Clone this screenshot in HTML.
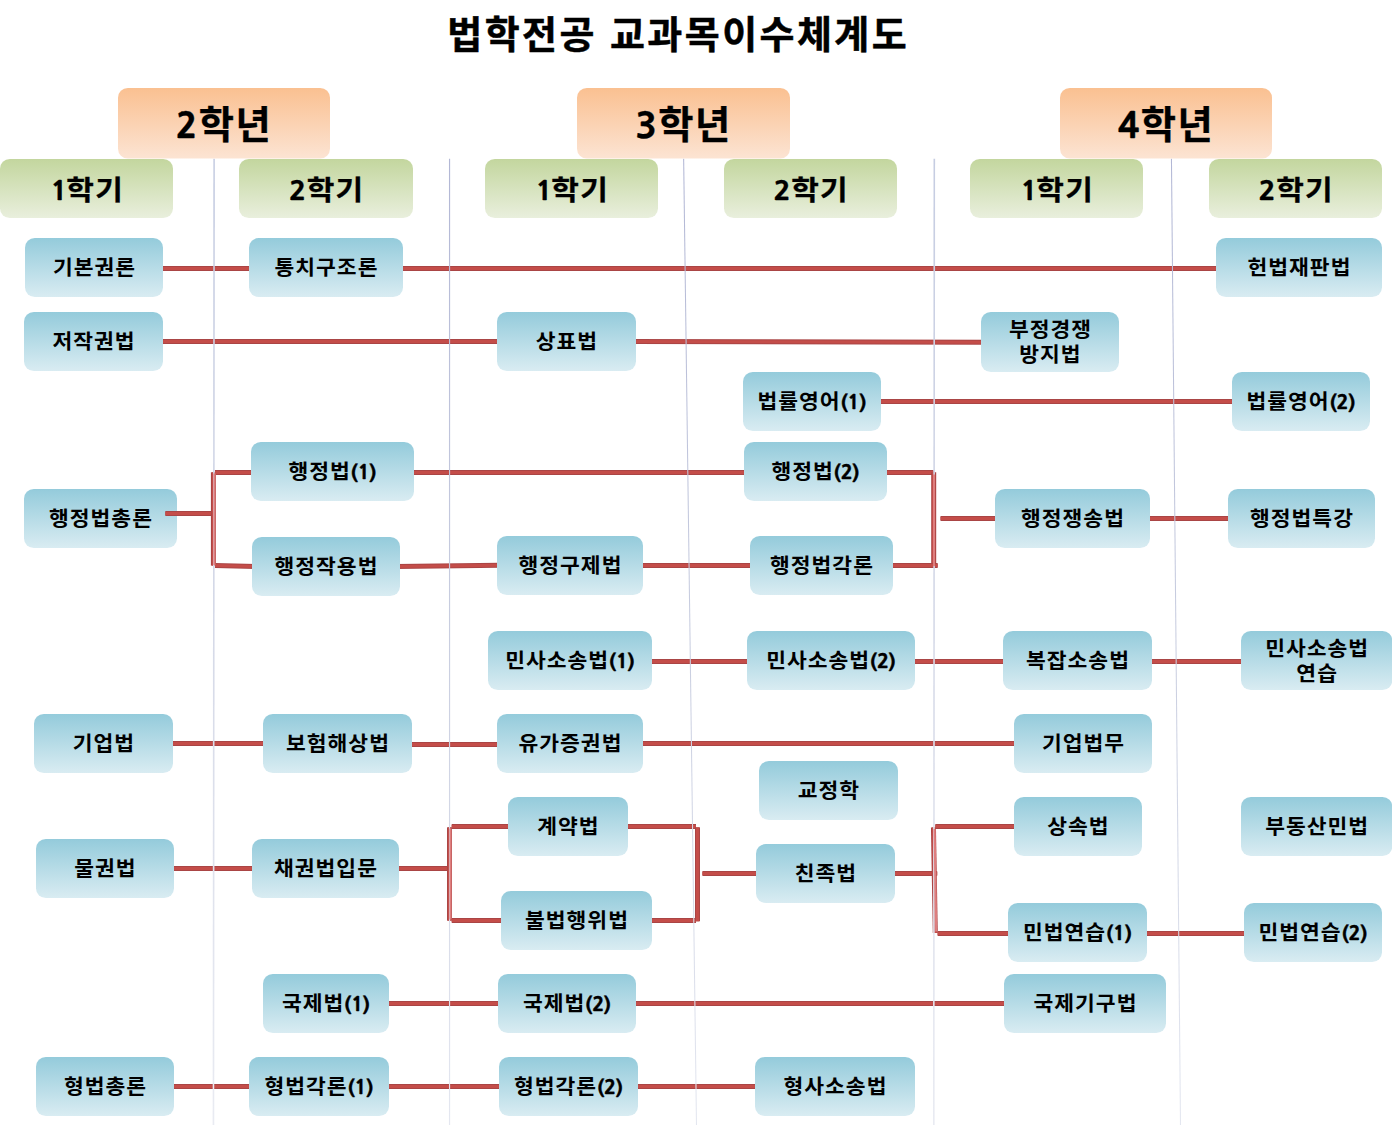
<!DOCTYPE html>
<html lang="ko">
<head>
<meta charset="utf-8">
<title>법학전공 교과목이수체계도</title>
<style>
html,body{margin:0;padding:0;background:#fff;}
body{width:1392px;height:1127px;overflow:hidden;position:relative;}
svg{display:block;position:absolute;left:0;top:0;}
text{font-family:"Liberation Sans","Noto Sans CJK KR",sans-serif;font-weight:bold;fill:#000;white-space:pre;}
.n{font-family:"NanumGothic","Liberation Sans",sans-serif;font-weight:800;}
.title{stroke:#000;stroke-width:0.5px;}
.grade,.sem{stroke:#000;stroke-width:0.35px;}
.grade .n,.sem .n{stroke-width:0.3px;}
.course .n{stroke:#000;stroke-width:0.35px;}
.red{fill:none;stroke:#AA4545;stroke-width:5;}
.redc{fill:none;stroke:#C44D49;stroke-width:3;}
.strip{fill:none;stroke:#DE7E7E;stroke-width:2.1;}
.vl{stroke-width:1.2;}
</style>
</head>
<body>
<svg width="1392" height="1127" viewBox="0 0 1392 1127">
<defs>
<linearGradient id="gb" x1="0" y1="0" x2="0" y2="1"><stop offset="0" stop-color="#94CBDB"/><stop offset="1" stop-color="#D9ECF2"/></linearGradient>
<linearGradient id="gg" x1="0" y1="0" x2="0" y2="1"><stop offset="0" stop-color="#C3D69E"/><stop offset="1" stop-color="#E9EFDD"/></linearGradient>
<linearGradient id="go" x1="0" y1="0" x2="0" y2="1"><stop offset="0" stop-color="#FAC091"/><stop offset="1" stop-color="#FCE4D3"/></linearGradient>
<linearGradient id="gv" gradientUnits="userSpaceOnUse" x1="0" y1="159" x2="0" y2="1125"><stop offset="0" stop-color="#B2B7D5"/><stop offset="0.5" stop-color="#C9CEE0"/><stop offset="1" stop-color="#E4E7F0"/></linearGradient>
<linearGradient id="gv2" gradientUnits="userSpaceOnUse" x1="0" y1="159" x2="0" y2="1125"><stop offset="0" stop-color="#C6CDE2"/><stop offset="0.5" stop-color="#D6DAE8"/><stop offset="1" stop-color="#E9EBF2"/></linearGradient>
</defs>
<rect width="1392" height="1127" fill="#fff"/>

<g id="title">
<text class="title" x="447.26" y="48.20" font-size="38" letter-spacing="2.45">법학전공 교과목이수체계도</text>
</g>
<g id="links">
<polyline class="red" points="160,268.5 252,268.5"/><polyline class="redc" points="160,268.5 252,268.5"/>
<polyline class="red" points="400,268.5 1220,268.5"/><polyline class="redc" points="400,268.5 1220,268.5"/>
<polyline class="red" points="160,341.5 500,341.5"/><polyline class="redc" points="160,341.5 500,341.5"/>
<polyline class="red" points="633,341.5 985,342.3"/><polyline class="redc" points="633,341.5 985,342.3"/>
<polyline class="red" points="878,401.5 1236,401.5"/><polyline class="redc" points="878,401.5 1236,401.5"/>
<polyline class="red" points="213.4,472.3 213.4,565.6"/><polyline class="redc" points="213.4,472.3 213.4,565.6"/>
<polyline class="red" points="215,472.5 255,472.5"/><polyline class="redc" points="215,472.5 255,472.5"/>
<polyline class="red" points="215,565.4 256,566.5"/><polyline class="redc" points="215,565.4 256,566.5"/>
<polyline class="red" points="410,472.5 748,472.5"/><polyline class="redc" points="410,472.5 748,472.5"/>
<polyline class="red" points="396,566.5 500,565.2"/><polyline class="redc" points="396,566.5 500,565.2"/>
<polyline class="red" points="640,565.5 754,565.5"/><polyline class="redc" points="640,565.5 754,565.5"/>
<polyline class="red" points="884,472.5 933.6,472.5"/><polyline class="redc" points="884,472.5 933.6,472.5"/>
<polyline class="red" points="933.7,472.3 933.7,567.5"/><polyline class="redc" points="933.7,472.3 933.7,567.5"/>
<polyline class="red" points="890,565.5 937.7,565.5"/><polyline class="redc" points="890,565.5 937.7,565.5"/>
<polyline class="red" points="940.5,518.5 999,518.5"/><polyline class="redc" points="940.5,518.5 999,518.5"/>
<polyline class="red" points="1147,518.5 1232,518.5"/><polyline class="redc" points="1147,518.5 1232,518.5"/>
<polyline class="red" points="649,661.5 751,661.5"/><polyline class="redc" points="649,661.5 751,661.5"/>
<polyline class="red" points="912,661.5 1007,661.5"/><polyline class="redc" points="912,661.5 1007,661.5"/>
<polyline class="red" points="1149,661.5 1245,661.5"/><polyline class="redc" points="1149,661.5 1245,661.5"/>
<polyline class="red" points="170,743.5 267,743.5"/><polyline class="redc" points="170,743.5 267,743.5"/>
<polyline class="red" points="409,744.5 500,744.5"/><polyline class="redc" points="409,744.5 500,744.5"/>
<polyline class="red" points="640,743.5 1018,743.5"/><polyline class="redc" points="640,743.5 1018,743.5"/>
<polyline class="red" points="171,868.5 256,868.5"/><polyline class="redc" points="171,868.5 256,868.5"/>
<polyline class="red" points="396,868.5 447.3,868.5"/><polyline class="redc" points="396,868.5 447.3,868.5"/>
<polyline class="red" points="449.5,827.3 449.5,920.7"/><polyline class="redc" points="449.5,827.3 449.5,920.7"/>
<polyline class="red" points="451.7,826.5 512,826.5"/><polyline class="redc" points="451.7,826.5 512,826.5"/>
<polyline class="red" points="451.7,920.5 505,920.5"/><polyline class="redc" points="451.7,920.5 505,920.5"/>
<polyline class="red" points="625,826.5 696,826.5"/><polyline class="redc" points="625,826.5 696,826.5"/>
<polyline class="red" points="649,920.5 696,920.5"/><polyline class="redc" points="649,920.5 696,920.5"/>
<polyline class="red" points="697.5,827.3 697.5,921.3"/><polyline class="redc" points="697.5,827.3 697.5,921.3"/>
<polyline class="red" points="702.4,873.5 760,873.5"/><polyline class="redc" points="702.4,873.5 760,873.5"/>
<polyline class="red" points="892,873.5 937.2,873.5"/><polyline class="redc" points="892,873.5 937.2,873.5"/>
<polyline class="red" points="933.45,827.4 935.3,933"/><polyline class="redc" points="933.45,827.4 935.3,933"/>
<polyline class="red" points="935.3,826.5 1018,826.5"/><polyline class="redc" points="935.3,826.5 1018,826.5"/>
<polyline class="red" points="937.6,933.5 1012,933.5"/><polyline class="redc" points="937.6,933.5 1012,933.5"/>
<polyline class="red" points="1144,933.5 1248,933.5"/><polyline class="redc" points="1144,933.5 1248,933.5"/>
<polyline class="red" points="386,1003.5 502,1003.5"/><polyline class="redc" points="386,1003.5 502,1003.5"/>
<polyline class="red" points="633,1003.5 1008,1003.5"/><polyline class="redc" points="633,1003.5 1008,1003.5"/>
<polyline class="red" points="171,1086.5 253,1086.5"/><polyline class="redc" points="171,1086.5 253,1086.5"/>
<polyline class="red" points="386,1086.5 503,1086.5"/><polyline class="redc" points="386,1086.5 503,1086.5"/>
<polyline class="red" points="635,1086.5 759,1086.5"/><polyline class="redc" points="635,1086.5 759,1086.5"/>
</g>
<g id="guides">
<line x1="214.1" y1="158.8" x2="213.45" y2="1125" stroke="url(#gv2)" stroke-width="1.6"/>
<line x1="449.55" y1="158.8" x2="449.55" y2="1125" stroke="url(#gv)" stroke-width="1.15"/>
<line x1="683.65" y1="158.8" x2="696.5" y2="1125" stroke="url(#gv)" stroke-width="1.05"/>
<line x1="934.3" y1="158.8" x2="933.8" y2="1125" stroke="url(#gv2)" stroke-width="1.6"/>
<line x1="1171.45" y1="158.8" x2="1180.5" y2="1125" stroke="url(#gv)" stroke-width="1.05"/>
</g>
<g id="strips">
<polyline class="strip" points="214.5,473.5 214.4,565"/>
<polyline class="strip" points="450.5,828.5 450.5,919.5"/>
<polyline class="strip" points="934,474.5 934,566"/>
<polyline class="strip" points="934.6,829 936.2,931.5"/>
</g>
<g id="grades">
<rect x="118" y="88" width="212" height="70.5" rx="9.8" fill="url(#go)"/>
<text class="grade" transform="translate(175.84 137.50) scale(0.972 0.955)" font-size="39.4" letter-spacing="1.5"><tspan class="n" font-size="36.65" letter-spacing="0.00">2</tspan><tspan dx="1.44">학년</tspan></text>
<rect x="577" y="88" width="213" height="70.5" rx="9.8" fill="url(#go)"/>
<text class="grade" transform="translate(635.34 137.50) scale(0.972 0.955)" font-size="39.4" letter-spacing="1.5"><tspan class="n" font-size="36.65" letter-spacing="0.00">3</tspan><tspan dx="1.44">학년</tspan></text>
<rect x="1060" y="88" width="212" height="70.5" rx="9.8" fill="url(#go)"/>
<text class="grade" transform="translate(1117.84 137.50) scale(0.972 0.955)" font-size="39.4" letter-spacing="1.5"><tspan class="n" font-size="36.65" letter-spacing="0.00">4</tspan><tspan dx="1.44">학년</tspan></text>
</g>
<g id="semesters">
<rect x="0" y="159" width="173" height="59" rx="9.8" fill="url(#gg)"/>
<text class="sem" transform="translate(50.44 199.50) scale(1 0.92)" font-size="30" letter-spacing="1.2"><tspan class="n" font-size="28.26" letter-spacing="0.00">1</tspan><tspan dx="-1.20">학기</tspan></text>
<rect x="239" y="159" width="174" height="59" rx="9.8" fill="url(#gg)"/>
<text class="sem" transform="translate(289.04 199.50) scale(1 0.92)" font-size="30" letter-spacing="1.2"><tspan class="n" font-size="28.26" letter-spacing="0.00">2</tspan><tspan dx="0.60">학기</tspan></text>
<rect x="485" y="159" width="173" height="59" rx="9.8" fill="url(#gg)"/>
<text class="sem" transform="translate(535.44 199.50) scale(1 0.92)" font-size="30" letter-spacing="1.2"><tspan class="n" font-size="28.26" letter-spacing="0.00">1</tspan><tspan dx="-1.20">학기</tspan></text>
<rect x="724" y="159" width="173" height="59" rx="9.8" fill="url(#gg)"/>
<text class="sem" transform="translate(773.54 199.50) scale(1 0.92)" font-size="30" letter-spacing="1.2"><tspan class="n" font-size="28.26" letter-spacing="0.00">2</tspan><tspan dx="0.60">학기</tspan></text>
<rect x="970" y="159" width="173" height="59" rx="9.8" fill="url(#gg)"/>
<text class="sem" transform="translate(1020.44 199.50) scale(1 0.92)" font-size="30" letter-spacing="1.2"><tspan class="n" font-size="28.26" letter-spacing="0.00">1</tspan><tspan dx="-1.20">학기</tspan></text>
<rect x="1209" y="159" width="173" height="59" rx="9.8" fill="url(#gg)"/>
<text class="sem" transform="translate(1258.54 199.50) scale(1 0.92)" font-size="30" letter-spacing="1.2"><tspan class="n" font-size="28.26" letter-spacing="0.00">2</tspan><tspan dx="0.60">학기</tspan></text>
</g>
<g id="courses">
<rect x="25" y="238" width="138" height="59" rx="9.8" fill="url(#gb)"/>
<text class="course" transform="translate(52.94 274.70) scale(1 0.96)" font-size="21.5" letter-spacing="1">기본권론</text>
<rect x="249" y="238" width="154" height="59" rx="9.8" fill="url(#gb)"/>
<text class="course" transform="translate(274.55 274.70) scale(1 0.96)" font-size="21.5" letter-spacing="1">통치구조론</text>
<rect x="1216" y="238" width="166" height="59" rx="9.8" fill="url(#gb)"/>
<text class="course" transform="translate(1247.55 274.70) scale(1 0.96)" font-size="21.5" letter-spacing="1">헌법재판법</text>
<rect x="24" y="312" width="139" height="59" rx="9.8" fill="url(#gb)"/>
<text class="course" transform="translate(52.44 348.70) scale(1 0.96)" font-size="21.5" letter-spacing="1">저작권법</text>
<rect x="497" y="312" width="139" height="59" rx="9.8" fill="url(#gb)"/>
<text class="course" transform="translate(535.83 348.70) scale(1 0.96)" font-size="21.5" letter-spacing="1">상표법</text>
<rect x="981" y="312" width="138" height="60" rx="9.8" fill="url(#gb)"/>
<text class="course" transform="translate(1008.94 337.00) scale(1 0.96)" font-size="21.5" letter-spacing="1">부정경쟁</text>
<text class="course" transform="translate(1019.33 362.20) scale(1 0.96)" font-size="21.5" letter-spacing="1">방지법</text>
<rect x="743" y="372" width="138" height="59" rx="9.8" fill="url(#gb)"/>
<text class="course" transform="translate(757.56 408.70) scale(1 0.96)" font-size="21.5" letter-spacing="1">법률영어<tspan class="n" font-size="19.79" letter-spacing="-0.30"><tspan dy="1.67">(</tspan><tspan dy="-1.35">1</tspan><tspan dy="1.35">)</tspan></tspan></text>
<rect x="1232" y="372" width="138" height="59" rx="9.8" fill="url(#gb)"/>
<text class="course" transform="translate(1246.56 408.70) scale(1 0.96)" font-size="21.5" letter-spacing="1">법률영어<tspan class="n" font-size="19.79" letter-spacing="-0.30"><tspan dy="1.67">(</tspan><tspan dy="-1.35">2</tspan><tspan dy="1.35">)</tspan></tspan></text>
<rect x="251" y="442" width="163" height="59" rx="9.8" fill="url(#gb)"/>
<text class="course" transform="translate(288.45 478.70) scale(1 0.96)" font-size="21.5" letter-spacing="1">행정법<tspan class="n" font-size="19.79" letter-spacing="-0.30"><tspan dy="1.67">(</tspan><tspan dy="-1.35">1</tspan><tspan dy="1.35">)</tspan></tspan></text>
<rect x="744" y="442" width="143" height="59" rx="9.8" fill="url(#gb)"/>
<text class="course" transform="translate(771.45 478.70) scale(1 0.96)" font-size="21.5" letter-spacing="1">행정법<tspan class="n" font-size="19.79" letter-spacing="-0.30"><tspan dy="1.67">(</tspan><tspan dy="-1.35">2</tspan><tspan dy="1.35">)</tspan></tspan></text>
<rect x="24" y="489" width="153" height="59" rx="9.8" fill="url(#gb)"/>
<text class="course" transform="translate(49.05 525.70) scale(1 0.96)" font-size="21.5" letter-spacing="1">행정법총론</text>
<rect x="995" y="489" width="155" height="59" rx="9.8" fill="url(#gb)"/>
<text class="course" transform="translate(1021.05 525.70) scale(1 0.96)" font-size="21.5" letter-spacing="1">행정쟁송법</text>
<rect x="1228" y="489" width="147" height="59" rx="9.8" fill="url(#gb)"/>
<text class="course" transform="translate(1250.05 525.70) scale(1 0.96)" font-size="21.5" letter-spacing="1">행정법특강</text>
<rect x="252" y="537" width="148" height="59" rx="9.8" fill="url(#gb)"/>
<text class="course" transform="translate(274.55 573.70) scale(1 0.96)" font-size="21.5" letter-spacing="1">행정작용법</text>
<rect x="497" y="536" width="146" height="59" rx="9.8" fill="url(#gb)"/>
<text class="course" transform="translate(518.55 572.70) scale(1 0.96)" font-size="21.5" letter-spacing="1">행정구제법</text>
<rect x="750" y="536" width="143" height="59" rx="9.8" fill="url(#gb)"/>
<text class="course" transform="translate(770.05 572.70) scale(1 0.96)" font-size="21.5" letter-spacing="1">행정법각론</text>
<rect x="488" y="631" width="164" height="59" rx="9.8" fill="url(#gb)"/>
<text class="course" transform="translate(505.17 667.70) scale(1 0.96)" font-size="21.5" letter-spacing="1">민사소송법<tspan class="n" font-size="19.79" letter-spacing="-0.30"><tspan dy="1.67">(</tspan><tspan dy="-1.35">1</tspan><tspan dy="1.35">)</tspan></tspan></text>
<rect x="747" y="631" width="168" height="59" rx="9.8" fill="url(#gb)"/>
<text class="course" transform="translate(766.17 667.70) scale(1 0.96)" font-size="21.5" letter-spacing="1">민사소송법<tspan class="n" font-size="19.79" letter-spacing="-0.30"><tspan dy="1.67">(</tspan><tspan dy="-1.35">2</tspan><tspan dy="1.35">)</tspan></tspan></text>
<rect x="1003" y="631" width="149" height="59" rx="9.8" fill="url(#gb)"/>
<text class="course" transform="translate(1026.05 667.70) scale(1 0.96)" font-size="21.5" letter-spacing="1">복잡소송법</text>
<rect x="1241" y="631" width="151.3" height="59" rx="9.8" fill="url(#gb)"/>
<text class="course" transform="translate(1265.20 655.50) scale(1 0.96)" font-size="21.5" letter-spacing="1">민사소송법</text>
<text class="course" transform="translate(1296.37 680.70) scale(1 0.96)" font-size="21.5" letter-spacing="1">연습</text>
<rect x="34" y="714" width="139" height="59" rx="9.8" fill="url(#gb)"/>
<text class="course" transform="translate(72.83 750.70) scale(1 0.96)" font-size="21.5" letter-spacing="1">기업법</text>
<rect x="263" y="714" width="149" height="59" rx="9.8" fill="url(#gb)"/>
<text class="course" transform="translate(286.05 750.70) scale(1 0.96)" font-size="21.5" letter-spacing="1">보험해상법</text>
<rect x="497" y="714" width="146" height="59" rx="9.8" fill="url(#gb)"/>
<text class="course" transform="translate(518.55 750.70) scale(1 0.96)" font-size="21.5" letter-spacing="1">유가증권법</text>
<rect x="1014" y="714" width="138" height="59" rx="9.8" fill="url(#gb)"/>
<text class="course" transform="translate(1041.94 750.70) scale(1 0.96)" font-size="21.5" letter-spacing="1">기업법무</text>
<rect x="759" y="761" width="139" height="59" rx="9.8" fill="url(#gb)"/>
<text class="course" transform="translate(797.83 797.70) scale(1 0.96)" font-size="21.5" letter-spacing="1">교정학</text>
<rect x="508" y="797" width="120" height="59" rx="9.8" fill="url(#gb)"/>
<text class="course" transform="translate(537.33 833.70) scale(1 0.96)" font-size="21.5" letter-spacing="1">계약법</text>
<rect x="1014" y="797" width="128" height="59" rx="9.8" fill="url(#gb)"/>
<text class="course" transform="translate(1047.33 833.70) scale(1 0.96)" font-size="21.5" letter-spacing="1">상속법</text>
<rect x="1241" y="797" width="151.3" height="59" rx="9.8" fill="url(#gb)"/>
<text class="course" transform="translate(1265.20 833.70) scale(1 0.96)" font-size="21.5" letter-spacing="1">부동산민법</text>
<rect x="36" y="839" width="138" height="59" rx="9.8" fill="url(#gb)"/>
<text class="course" transform="translate(74.33 875.70) scale(1 0.96)" font-size="21.5" letter-spacing="1">물권법</text>
<rect x="252" y="839" width="147" height="59" rx="9.8" fill="url(#gb)"/>
<text class="course" transform="translate(274.05 875.70) scale(1 0.96)" font-size="21.5" letter-spacing="1">채권법입문</text>
<rect x="756" y="844" width="139" height="59" rx="9.8" fill="url(#gb)"/>
<text class="course" transform="translate(794.83 880.70) scale(1 0.96)" font-size="21.5" letter-spacing="1">친족법</text>
<rect x="501" y="891" width="151" height="59" rx="9.8" fill="url(#gb)"/>
<text class="course" transform="translate(525.05 927.70) scale(1 0.96)" font-size="21.5" letter-spacing="1">불법행위법</text>
<rect x="1008" y="903" width="139" height="59" rx="9.8" fill="url(#gb)"/>
<text class="course" transform="translate(1023.06 939.70) scale(1 0.96)" font-size="21.5" letter-spacing="1">민법연습<tspan class="n" font-size="19.79" letter-spacing="-0.30"><tspan dy="1.67">(</tspan><tspan dy="-1.35">1</tspan><tspan dy="1.35">)</tspan></tspan></text>
<rect x="1244" y="903" width="138" height="59" rx="9.8" fill="url(#gb)"/>
<text class="course" transform="translate(1258.56 939.70) scale(1 0.96)" font-size="21.5" letter-spacing="1">민법연습<tspan class="n" font-size="19.79" letter-spacing="-0.30"><tspan dy="1.67">(</tspan><tspan dy="-1.35">2</tspan><tspan dy="1.35">)</tspan></tspan></text>
<rect x="263" y="974" width="126" height="59" rx="9.8" fill="url(#gb)"/>
<text class="course" transform="translate(281.95 1010.70) scale(1 0.96)" font-size="21.5" letter-spacing="1">국제법<tspan class="n" font-size="19.79" letter-spacing="-0.30"><tspan dy="1.67">(</tspan><tspan dy="-1.35">1</tspan><tspan dy="1.35">)</tspan></tspan></text>
<rect x="498" y="974" width="138" height="59" rx="9.8" fill="url(#gb)"/>
<text class="course" transform="translate(522.95 1010.70) scale(1 0.96)" font-size="21.5" letter-spacing="1">국제법<tspan class="n" font-size="19.79" letter-spacing="-0.30"><tspan dy="1.67">(</tspan><tspan dy="-1.35">2</tspan><tspan dy="1.35">)</tspan></tspan></text>
<rect x="1004" y="974" width="162" height="59" rx="9.8" fill="url(#gb)"/>
<text class="course" transform="translate(1033.55 1010.70) scale(1 0.96)" font-size="21.5" letter-spacing="1">국제기구법</text>
<rect x="36" y="1057" width="138" height="59" rx="9.8" fill="url(#gb)"/>
<text class="course" transform="translate(63.94 1093.70) scale(1 0.96)" font-size="21.5" letter-spacing="1">형법총론</text>
<rect x="249" y="1057" width="140" height="59" rx="9.8" fill="url(#gb)"/>
<text class="course" transform="translate(264.56 1093.70) scale(1 0.96)" font-size="21.5" letter-spacing="1">형법각론<tspan class="n" font-size="19.79" letter-spacing="-0.30"><tspan dy="1.67">(</tspan><tspan dy="-1.35">1</tspan><tspan dy="1.35">)</tspan></tspan></text>
<rect x="499" y="1057" width="139" height="59" rx="9.8" fill="url(#gb)"/>
<text class="course" transform="translate(514.06 1093.70) scale(1 0.96)" font-size="21.5" letter-spacing="1">형법각론<tspan class="n" font-size="19.79" letter-spacing="-0.30"><tspan dy="1.67">(</tspan><tspan dy="-1.35">2</tspan><tspan dy="1.35">)</tspan></tspan></text>
<rect x="755" y="1057" width="160" height="59" rx="9.8" fill="url(#gb)"/>
<text class="course" transform="translate(783.55 1093.70) scale(1 0.96)" font-size="21.5" letter-spacing="1">형사소송법</text>
</g>
<g id="links-over">
<polyline class="red" points="165.3,513.5 211,513.5"/><polyline class="redc" points="165.3,513.5 211,513.5"/>
</g>
</svg>
</body>
</html>
